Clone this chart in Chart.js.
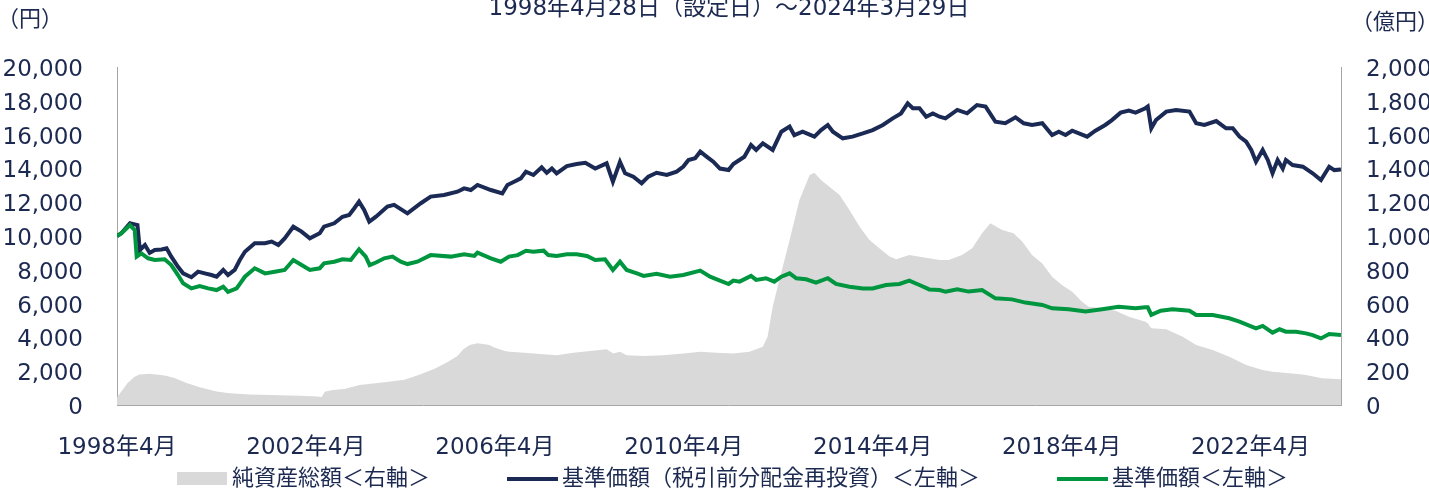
<!DOCTYPE html>
<html lang="ja">
<head>
<meta charset="utf-8">
<script src="https://cdn.jsdelivr.net/npm/chart.js@4/dist/chart.umd.min.js"></script>
<style>
  html, body { margin: 0; padding: 0; background: #fff; }
  #wrap { width: 1429px; height: 490px; position: relative; }
</style>
</head>
<body>
<div id="wrap"><canvas id="fundChart"></canvas></div>
<script>
/* ─── 軸・ラベル ─── */
const TITLE = '1998年4月28日（設定日）～2024年3月29日';
const xTickMonths = [0, 48, 96, 144, 192, 240, 288];   // 1998年4月からの月数
const xTickLabels = ['1998年4月', '2002年4月', '2006年4月', '2010年4月', '2014年4月', '2018年4月', '2022年4月'];
const legendLabels = ['純資産総額＜右軸＞', '基準価額（税引前分配金再投資）＜左軸＞', '基準価額＜左軸＞'];

/* ─── 純資産総額（億円） ─── */
const aumMonths = [0, 1.1, 2.7, 4.4, 5.7, 8.3, 12.1, 14.6, 17.7, 21, 25.3, 28.6, 33.7, 41.3, 46.4, 51, 52, 52.8, 54.8, 57.8,
  61.6, 68, 73, 76.3, 80.7, 84, 86.5, 88, 89.6, 91.6, 93.4, 94.6, 95.9, 97.2, 98.5, 99.7, 103.5, 107.5, 111.7, 116,
  120.2, 124.4, 126.1, 127.8, 129.5, 133.8, 138.8, 143.9, 148.2, 152.4, 156.6, 160.7, 164.1, 165.3, 166.6, 168.3, 170.9, 173.4, 176, 177.2,
  178.9, 181, 183.6, 186.1, 188.7, 191.2, 193.7, 196.3, 198, 201.3, 204.7, 209, 211.3, 214.7, 217.3, 219.8, 221.9, 224.9, 227.8, 230,
  232.5, 235.1, 237.6, 240.1, 242.7, 245.2, 246.9, 250.3, 253.7, 257.1, 261.3, 261.9, 262.8, 266.6, 270.8, 274.2, 278.4, 282.6, 286.9, 291.1,
  293.6, 298.7, 302.1, 306.2, 311];
const aumValues = [45, 80, 130, 165, 180, 185, 175, 160, 130, 105, 80, 70, 62, 58, 55, 50, 48, 79, 89, 95,
  118, 135, 150, 175, 215, 255, 290, 330, 355, 365, 360, 355, 340, 330, 320, 315, 309, 302, 295, 309,
  320, 330, 305, 315, 295, 290, 295, 305, 315, 309, 305, 315, 345, 404, 582, 740, 976, 1213, 1361, 1375,
  1331, 1292, 1243, 1154, 1055, 976, 927, 878, 862, 888, 875, 858, 858, 888, 927, 1016, 1075, 1036, 1016, 967,
  888, 838, 759, 710, 670, 611, 582, 572, 558, 522, 493, 483, 454, 448, 404, 355, 325, 286, 237, 207,
  197, 187, 178, 158, 152];

/* ─── 基準価額（税引前分配金再投資）（円） ─── */
const navReMonths = [0, 1.1, 3.3, 5.2, 5.8, 7.1, 8.3, 9.6, 11.3, 12.6, 13.8, 15.5, 16.8, 18.9, 20.6, 22.3, 24, 25.3, 27, 28.2,
  29.9, 31.2, 32.5, 35, 37.6, 39.3, 41, 42.6, 44.8, 46.9, 49, 51.5, 52.6, 55.2, 57.3, 59, 60.3, 61.5, 62.8, 64.1,
  65.8, 68.7, 70.4, 73.8, 77.2, 79.7, 83.1, 86.5, 88.2, 89.9, 91.6, 95, 97.9, 99.2, 100.9, 102.6, 103.9, 105.8, 107.9, 109.2,
  110.5, 111.7, 114.3, 116.8, 119, 121.5, 124.4, 126, 127.8, 129.1, 131.2, 133.3, 135, 137.1, 139.7, 142.2, 143.9, 145.2, 146.9, 148.2,
  149.8, 151.5, 153.2, 155.4, 156.6, 159.4, 161.1, 162.4, 164.1, 166.6, 168.8, 170.9, 172.1, 174.2, 177.2, 178.9, 180.6, 181.9, 184.4, 186.9,
  189.5, 192, 194.6, 197.1, 199.2, 200.9, 202.2, 203.9, 205.6, 207.3, 209, 210.5, 213.5, 216, 218.5, 220.7, 223.2, 225.7, 228.3, 230.4,
  232.5, 235.1, 237.6, 239.3, 241, 242.7, 246.5, 248.6, 251.1, 252.8, 255, 257.1, 258.8, 261.3, 261.9, 262.8, 264, 266.6, 269.1, 272.5,
  274.2, 276.3, 279.3, 281.8, 283.5, 285.2, 286.9, 288.2, 289.4, 291.1, 292.4, 293.6, 294.9, 296.2, 297, 298.7, 301.3, 303.8, 305.9, 308,
  309.3, 311];
const navReValues = [10000, 10160, 10750, 10650, 9170, 9470, 9000, 9170, 9200, 9270, 8780, 8180, 7790, 7560, 7890, 7790, 7690, 7590, 7990, 7690,
  7990, 8580, 9070, 9570, 9570, 9670, 9470, 9860, 10550, 10260, 9860, 10160, 10550, 10750, 11140, 11240, 11640, 12030, 11540, 10850,
  11140, 11740, 11840, 11340, 11940, 12330, 12430, 12620, 12820, 12720, 13020, 12720, 12520, 13020, 13210, 13410, 13810, 13610, 14060, 13740,
  13990, 13710, 14140, 14260, 14330, 13990, 14300, 13210, 14390, 13710, 13510, 13120, 13510, 13740, 13610, 13810, 14110, 14500, 14600, 14990,
  14700, 14400, 13990, 13900, 14260, 14690, 15380, 15090, 15480, 15090, 16170, 16470, 15970, 16170, 15880, 16270, 16570, 16170, 15780, 15880,
  16070, 16270, 16570, 16960, 17250, 17850, 17560, 17560, 17060, 17250, 17060, 16960, 17460, 17260, 17750, 17660, 16760, 16670, 17020, 16670,
  16570, 16670, 15980, 16170, 15980, 16230, 15880, 16230, 16570, 16860, 17300, 17420, 17300, 17560, 17660, 16370, 16860, 17360, 17460, 17360,
  16670, 16570, 16800, 16370, 16370, 15880, 15580, 15090, 14400, 15090, 14500, 13710, 14500, 13990, 14500, 14200, 14100, 13710, 13310, 14100,
  13900, 13940];

/* ─── 基準価額（円） ─── */
const navMonths = [0, 1.1, 3.3, 4.5, 5, 6.2, 7.9, 9.6, 12.1, 13.8, 15.5, 16.8, 18.9, 21, 23.2, 25.3, 27, 28.2, 30.4, 32.5,
  35, 37.6, 40.1, 42.6, 44.8, 46.9, 49, 51.5, 52.6, 55.2, 57.3, 59.4, 61.5, 63.2, 64.2, 65.8, 67.9, 70, 72.1, 73.8,
  76.3, 79.7, 84.8, 88.2, 90.8, 91.6, 95, 97.5, 99.6, 101.8, 103.9, 105.8, 108.4, 109.6, 111.7, 114.3, 116.8, 119.4, 121.5, 124,
  126, 127.8, 129.5, 132.1, 133.8, 137.1, 140.5, 143.9, 148.2, 150.7, 153.2, 155.4, 156.6, 158.2, 161.1, 162.4, 164.9, 167, 168.8, 170.9,
  172.6, 175.1, 177.6, 180.6, 182.7, 186.1, 189.5, 192, 195.4, 198.8, 201.3, 203.9, 206.4, 209, 210.5, 213.5, 216.4, 219.8, 223.2, 227.4,
  230.8, 235.1, 237.6, 241.8, 246.1, 250.3, 254.5, 258.8, 261.3, 261.9, 262.8, 265.2, 268.2, 272.5, 274.2, 278.4, 282.6, 285.2, 289.4, 291.1,
  293.6, 295.4, 297, 299.6, 302.1, 303.8, 305.9, 308, 311];
const navValues = [10000, 10160, 10650, 10350, 8780, 8970, 8680, 8580, 8620, 8280, 7690, 7200, 6900, 7040, 6900, 6800, 7000, 6700, 6900, 7590,
  8090, 7790, 7890, 7990, 8580, 8280, 7990, 8090, 8380, 8480, 8620, 8580, 9210, 8780, 8280, 8430, 8680, 8780, 8480, 8340,
  8480, 8870, 8780, 8920, 8820, 9020, 8680, 8480, 8780, 8870, 9130, 9070, 9130, 8870, 8820, 8920, 8920, 8820, 8580, 8620,
  7990, 8480, 7990, 7790, 7640, 7770, 7590, 7690, 7950, 7590, 7360, 7160, 7360, 7300, 7640, 7400, 7500, 7300, 7590, 7790,
  7500, 7440, 7240, 7500, 7160, 7000, 6900, 6900, 7100, 7160, 7360, 7100, 6840, 6800, 6710, 6840, 6710, 6800, 6310, 6250,
  6060, 5920, 5720, 5660, 5530, 5660, 5810, 5720, 5780, 5780, 5330, 5580, 5660, 5580, 5330, 5330, 5130, 4930, 4540, 4680,
  4280, 4480, 4340, 4340, 4240, 4140, 3940, 4200, 4140];

/* ─── 色・フォント ─── */
const TEXT = '#1c2950';
const NAVY = '#1b2a55';
const GREEN = '#009640';
const GREY_FILL = '#d9d9d9';
const AXIS_LINE = '#a6a6a6';
const FONT = '"DejaVu Sans", "Noto Sans CJK JP", sans-serif';

const pts = (xs, ys) => xs.map((m, i) => ({ x: m, y: ys[i] }));
const fmt = v => v.toLocaleString('en-US');

/* タイトル・単位・凡例（canvas 直描き） */
const extras = {
    id: 'extras',
    afterDraw(chart) {
        const ctx = chart.ctx;
        ctx.save();
        ctx.fillStyle = TEXT;
        ctx.font = `23px ${FONT}`;
        ctx.textAlign = 'center';
        ctx.textBaseline = 'alphabetic';
        ctx.fillText(TITLE, 729, 15);

        ctx.textAlign = 'left';
        ctx.textBaseline = 'middle';
        ctx.font = `22px ${FONT}`;
        ctx.fillText('（円）', -3, 20);
        ctx.fillText('（億円）', 1351, 23);

        /* 凡例 */
        const ly = 479;
        ctx.fillStyle = GREY_FILL;
        ctx.fillRect(177, 472, 50, 13);
        ctx.lineWidth = 4;
        ctx.strokeStyle = NAVY;
        ctx.beginPath(); ctx.moveTo(507, ly); ctx.lineTo(558, ly); ctx.stroke();
        ctx.strokeStyle = GREEN;
        ctx.beginPath(); ctx.moveTo(1057, ly); ctx.lineTo(1108, ly); ctx.stroke();

        ctx.fillStyle = TEXT;
        ctx.font = `22px ${FONT}`;
        ctx.fillText(legendLabels[0], 232, ly);
        ctx.fillText(legendLabels[1], 562, ly);
        ctx.fillText(legendLabels[2], 1112, ly);
        ctx.restore();
    },
};

new Chart(document.getElementById('fundChart'), {
    type: 'line',
    data: {
        datasets: [
            {
                label: legendLabels[0],
                data: pts(aumMonths, aumValues),
                yAxisID: 'yR',
                fill: 'origin',
                backgroundColor: GREY_FILL,
                borderWidth: 0,
                pointRadius: 0,
                order: 3,
            },
            {
                label: legendLabels[1],
                data: pts(navReMonths, navReValues),
                yAxisID: 'yL',
                borderColor: NAVY,
                borderWidth: 4,
                pointRadius: 0,
                fill: false,
                order: 2,
            },
            {
                label: legendLabels[2],
                data: pts(navMonths, navValues),
                yAxisID: 'yL',
                borderColor: GREEN,
                borderWidth: 4,
                pointRadius: 0,
                fill: false,
                order: 1,
            },
        ],
    },
    options: {
        responsive: true,
        maintainAspectRatio: false,
        animation: false,
        layout: { padding: { top: 67, bottom: 0, left: 0, right: 0 } },
        plugins: {
            legend: { display: false },
            tooltip: { enabled: false },
            title: { display: false },
        },
        scales: {
            x: {
                type: 'linear',
                min: 0,
                max: 311,
                z: 1,
                grid: { display: false, drawTicks: false },
                border: { display: true, color: AXIS_LINE, width: 1 },
                afterBuildTicks: s => { s.ticks = xTickMonths.map(v => ({ value: v })); },
                afterFit: s => { s.height = 85; },
                ticks: {
                    autoSkip: false,
                    maxRotation: 0,
                    padding: 29,
                    color: TEXT,
                    font: { family: FONT, size: 23 },
                    callback: v => xTickLabels[xTickMonths.indexOf(v)],
                },
            },
            yL: {
                position: 'left',
                min: 0,
                max: 20000,
                z: 1,
                grid: { display: false, drawTicks: false },
                border: { display: true, color: AXIS_LINE, width: 1 },
                afterFit: s => { s.width = 117; },
                ticks: {
                    stepSize: 2000,
                    padding: 34,
                    labelOffset: 3,
                    color: TEXT,
                    font: { family: FONT, size: 23 },
                    callback: fmt,
                },
            },
            yR: {
                position: 'right',
                min: 0,
                max: 2000,
                z: 1,
                grid: { display: false, drawTicks: false },
                border: { display: true, color: AXIS_LINE, width: 1 },
                afterFit: s => { s.width = 88; },
                ticks: {
                    stepSize: 200,
                    padding: 25,
                    labelOffset: 3,
                    color: TEXT,
                    font: { family: FONT, size: 23 },
                    callback: fmt,
                },
            },
        },
    },
    plugins: [extras],
});
</script>
</body>
</html>
